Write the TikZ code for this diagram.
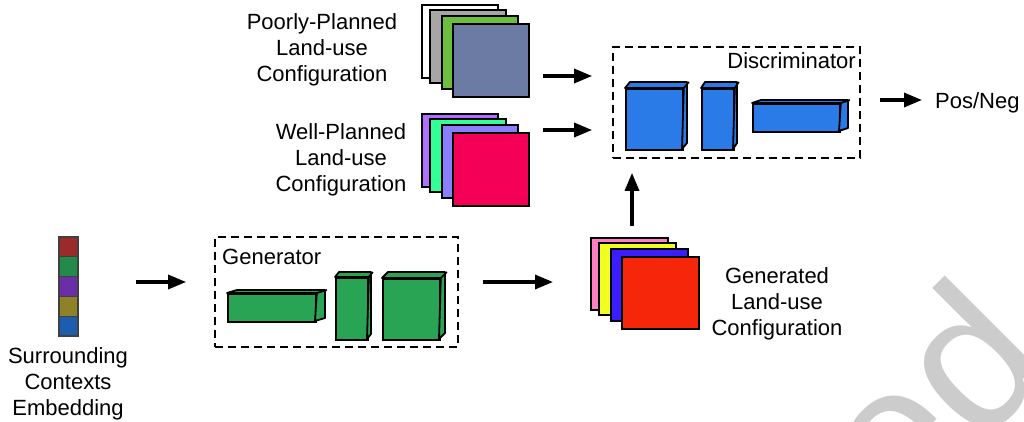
\documentclass[tikz,border=0pt]{standalone}
\usepackage{fontspec}
\setmainfont{Liberation Sans}
\usetikzlibrary{arrows.meta}

\definecolor{sheetgrey}{RGB}{166,166,166}
\definecolor{sheetgreen}{RGB}{108,190,62}
\definecolor{sheetslate}{RGB}{107,123,163}
\definecolor{sheetviolet}{RGB}{176,112,255}
\definecolor{sheetmint}{RGB}{50,255,150}
\definecolor{sheetlav}{RGB}{138,128,255}
\definecolor{sheetcrimson}{RGB}{245,0,87}
\definecolor{sheetpink}{RGB}{255,128,192}
\definecolor{sheetyellow}{RGB}{240,255,32}
\definecolor{sheetblue}{RGB}{58,30,255}
\definecolor{sheetred}{RGB}{245,38,10}
\definecolor{discblue}{RGB}{42,122,232}
\definecolor{gengreen}{RGB}{40,164,84}
\definecolor{embA}{RGB}{155,42,43}
\definecolor{embB}{RGB}{35,139,74}
\definecolor{embC}{RGB}{106,47,168}
\definecolor{embD}{RGB}{143,129,40}
\definecolor{embE}{RGB}{29,93,176}

\tikzset{
        lbl/.style={font=\fontsize{22}{26}\selectfont, align=center, inner sep=0pt},
        sheet/.style={draw, line width=2pt, minimum width=76pt, minimum height=73pt, inner sep=0pt, anchor=north west},
        cell/.style={draw=black!75, line width=1.2pt, minimum width=19pt, minimum height=19.8pt, inner sep=0pt},
        dashbox/.style={draw, line width=1.8pt, dash pattern=on 8pt off 5pt, inner sep=0pt},
        blockface/.style={draw, line width=1.8pt, inner sep=0pt, anchor=north west},
        blockedge/.style={draw, line width=1.8pt, line join=round},
        flow/.style={line width=3.3pt, -{Triangle[length=18pt,width=14pt]}}
}

% name, top left corner of front face, width, height, depth x, depth y, colour
\newcommand{\cuboid}[7]{%
        \node[blockface, fill=#7, minimum width=#3pt, minimum height=#4pt] (#1) at #2 {};
        \filldraw[fill=#7, blockedge] (#1.north west) -- ++(#5,-#6) -- ++(#3,0) -- ++(0,#4) -- ++(-#5,#6) -- (#1.north east) -- cycle;
        \draw[blockedge] (#1.north east) -- ++(#5,-#6);
}

\begin{document}
\begin{tikzpicture}[x=1pt,y=-1pt]
        \useasboundingbox (0,0) rectangle (1024,422);

        % watermark fragment
        \begin{scope}
            \clip (0,0) rectangle (1024,422);
            \node[text=black!20, font=\fontsize{200}{200}\selectfont, inner sep=0pt, anchor=base east, rotate=45] (mark) at (1057,369) {ed};
        \end{scope}

        % surrounding contexts embedding
        \foreach \c [count=\i from 0] in {embA,embB,embC,embD,embE}
            \node[cell, fill=\c] (emb\i) at (68.5,{246.9+19.8*\i}) {};
        \node[lbl] (embtxt) at (68,384) {Surrounding\\Contexts\\Embedding};

        % generator
        \node[dashbox, minimum width=243pt, minimum height=110pt] (genbox) at (336.5,292) {};
        \node[lbl, anchor=base west] (gentxt) at (222,264) {Generator};
        \cuboid{gA}{(227,293)}{88}{28}{10}{3}{gengreen}
        \cuboid{gB}{(335,277)}{32}{62}{4}{5}{gengreen}
        \cuboid{gC}{(382,278)}{57}{61}{6}{6}{gengreen}

        % sheets of land-use configurations
        \foreach \c/\x/\y [count=\i] in {white/420.7/4, sheetgrey/429/9, sheetgreen/441/15, sheetslate/452/23}
            \node[sheet, fill=\c] (poor\i) at (\x,\y) {};
        \foreach \c/\x/\y [count=\i] in {sheetviolet/420.7/113, sheetmint/429/118, sheetlav/441/124, sheetcrimson/452/132}
            \node[sheet, fill=\c] (well\i) at (\x,\y) {};
        \foreach \c/\x/\y [count=\i] in {sheetpink/590/237, sheetyellow/598/242, sheetblue/610/248, sheetred/621/256}
            \node[sheet, fill=\c, minimum width=77pt, minimum height=72pt] (made\i) at (\x,\y) {};

        \node[lbl] (poortxt) at (322,50) {Poorly-Planned\\Land-use\\Configuration};
        \node[lbl] (welltxt) at (341,160) {Well-Planned\\Land-use\\Configuration};
        \node[lbl] (madetxt) at (777,304) {Generated\\Land-use\\Configuration};

        % discriminator
        \node[dashbox, minimum width=247pt, minimum height=111pt] (disc) at (736.5,102.5) {};
        \node[lbl, anchor=base east] (disctxt) at (856,69) {Discriminator};
        \cuboid{dA}{(625,88)}{57}{61}{5}{6}{discblue}
        \cuboid{dB}{(701,88)}{32}{61}{4}{6}{discblue}
        \cuboid{dC}{(752,103)}{87}{28}{9}{3}{discblue}

        \node[lbl, anchor=west] (posneg) at (935,103) {Pos/Neg};

        % arrows
        \coordinate (embout) at (136,282);
        \coordinate (genout) at (483,282);
        \coordinate (poorout) at (543,76);
        \coordinate (wellout) at (543,130);
        \coordinate (madeout) at (632,226);
        \coordinate (discout) at (880,100);
        \draw[flow, shorten >=28pt] (embout) -- (embout -| genbox.west);
        \draw[flow, shorten >=37pt] (genout) -- (genout -| made1.west);
        \draw[flow, shorten >=20pt] (poorout) -- (poorout -| disc.west);
        \draw[flow, shorten >=20pt] (wellout) -- (wellout -| disc.west);
        \draw[flow, shorten >=14pt] (madeout) -- (madeout |- disc.south);
        \draw[flow, shorten >=13pt] (discout) -- (discout -| posneg.west);
\end{tikzpicture}
\end{document}
